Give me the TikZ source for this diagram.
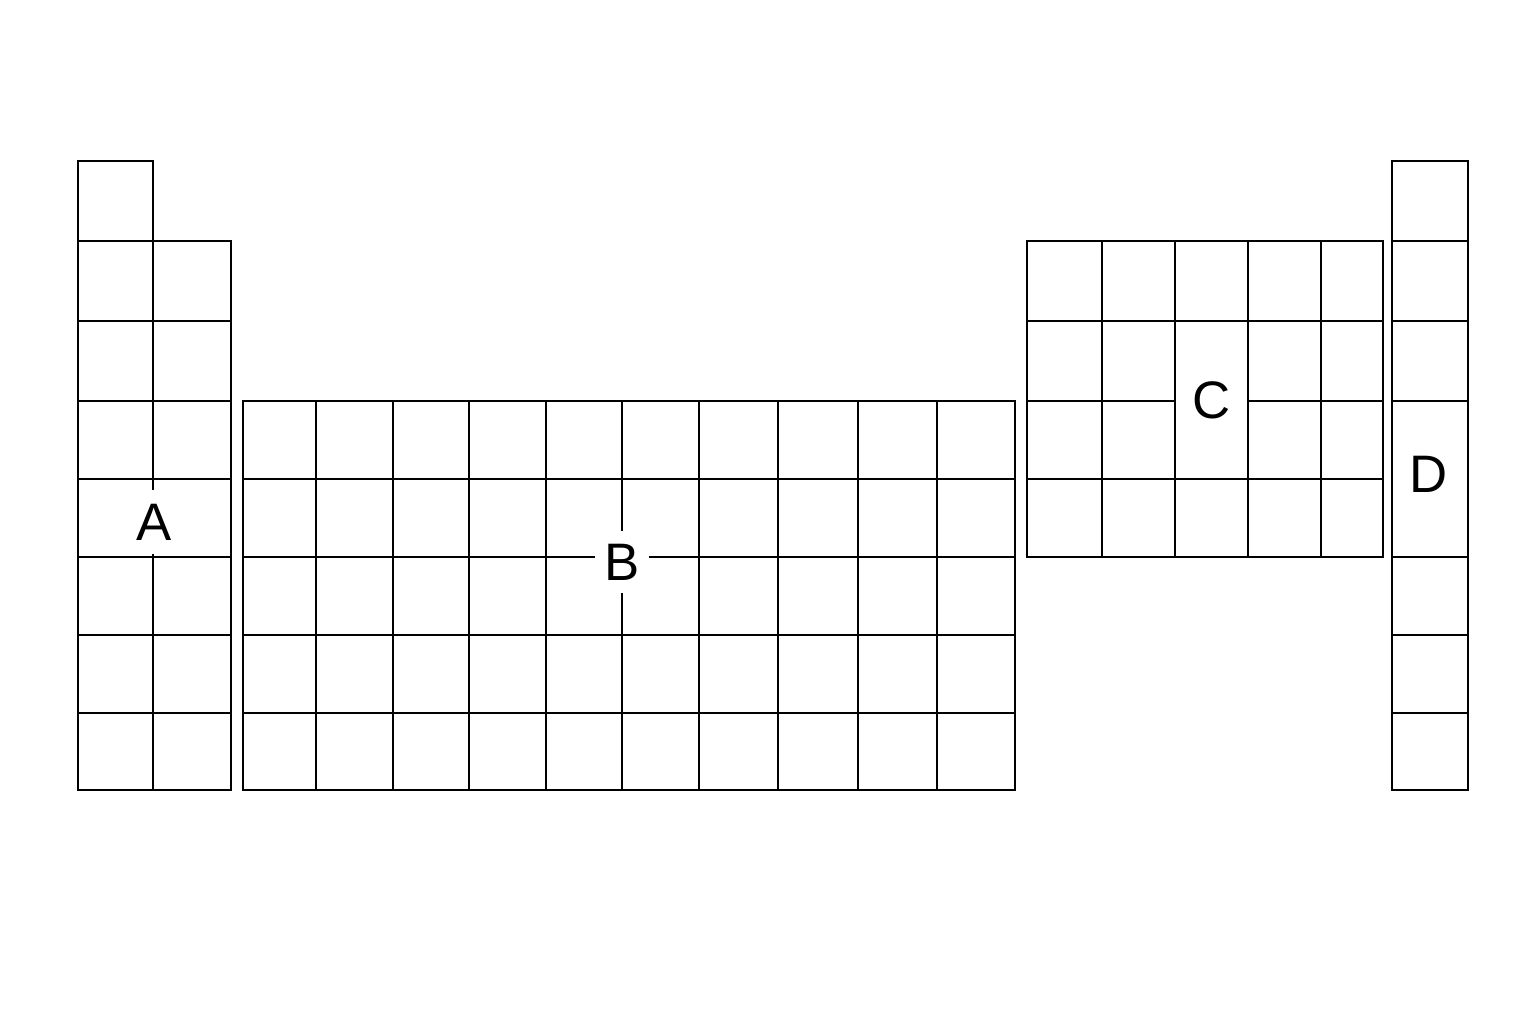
\documentclass[tikz,border=0pt]{standalone}
\usepackage{fontspec}
\setmainfont{Liberation Sans}
\begin{document}
\begin{tikzpicture}[x=0.01cm,y=-0.01cm,line width=0.6pt,
    blocklabel/.style={font=\fontsize{15}{18}\selectfont,inner sep=0pt},
    gap/.style={blocklabel,fill=white}]
  \useasboundingbox (0,0) rectangle (1536,1024);
  \fill[white] (0,0) rectangle (1536,1024);
  % block A: two columns, the first one a row taller
  \draw (78,161) rectangle (153,790);
  \draw (153,241) rectangle (231,790);
  \foreach \y in {321,401,479,557,635,713}
    \draw (78,\y) -- (231,\y);
  \draw (78,241) -- (153,241);
  \node[gap, minimum width=0.5cm, minimum height=0.64cm] (labA) at (154,522) {A};
  % block B: ten columns, five rows
  \draw (243,401) rectangle (1015,790);
  \foreach \x in {316,393,469,546,622,699,778,858,937}
    \draw (\x,401) -- (\x,790);
  \foreach \y in {479,557,635,713}
    \draw (243,\y) -- (1015,\y);
  \node[gap, minimum width=0.54cm, minimum height=0.62cm] (labB) at (622,562) {B};
  % block C: five columns, four rows, one merged cell
  \draw (1027,241) rectangle (1383,557);
  \foreach \x in {1102,1175,1248,1321}
    \draw (\x,241) -- (\x,557);
  \foreach \y in {321,479}
    \draw (1027,\y) -- (1383,\y);
  \draw (1027,401) -- (1175,401);
  \draw (1248,401) -- (1383,401);
  \node[blocklabel] (labC) at (1212,400) {C};
  % block D: one column
  \draw (1392,161) rectangle (1468,790);
  \foreach \y in {241,321,401,557,635,713}
    \draw (1392,\y) -- (1468,\y);
  \node[blocklabel] (labD) at (1429,474) {D};
\end{tikzpicture}
\end{document}
